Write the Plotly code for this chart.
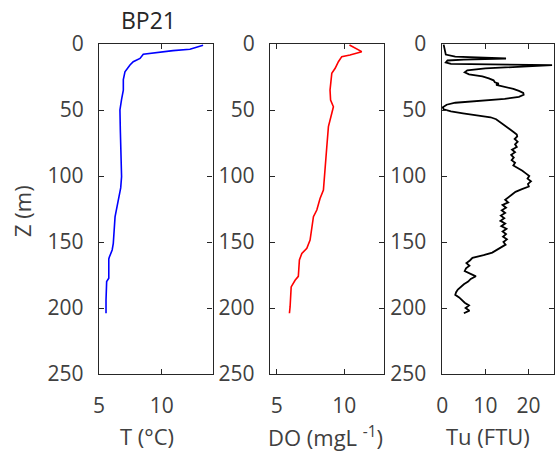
import plotly.graph_objects as go

# ---- data ----
T_depth = [1, 4, 5, 6.5, 7.8, 10.9, 13.4, 15.9, 21, 27, 35, 42, 50, 65, 80, 88, 100.5,
           109, 118, 131, 151, 156, 161.6, 163, 177.5, 180, 194, 204]
T_vals = [13.3, 12.25, 10.9, 9.6, 8.53, 8.27, 7.73, 7.47, 7.07, 6.94, 6.94, 6.8, 6.67,
          6.7, 6.75, 6.75, 6.8, 6.73, 6.54, 6.28, 6.14, 6.05, 5.82, 5.78, 5.78, 5.61, 5.56, 5.56]

DO_depth = [0.8, 3.3, 5.8, 8.3, 9.6, 13.4, 18.4, 22.2, 34.8, 42.4, 47.5, 52.5, 62.6, 77.8,
            88, 95.5, 110.6, 117, 125.8, 130.8, 148.5, 154.8, 158.6, 163.6, 176, 179, 184,
            199, 204]
DO_vals = [10.39, 10.8, 11.3, 10.43, 9.82, 9.57, 9.33, 9.08, 8.95, 8.99, 9.2, 9.08, 8.83,
           8.71, 8.64, 8.59, 8.46, 8.21, 7.97, 7.72, 7.47, 7.23, 6.86, 6.68, 6.6, 6.36, 6.07,
           5.99, 5.94]

Tu_depth = [0.5, 4, 8, 9.5, 11, 11.8, 12.5, 14, 15, 16, 17, 18.5, 20, 21.5, 23, 24.5, 26,
            27.5, 29, 30, 31, 32.5, 34, 35.5, 37, 38.5, 40, 41.5, 42.5, 43.5, 44.5, 46, 48,
            49.5, 51, 52.5, 54, 55.5, 57, 59, 61, 63, 65, 67, 68.5,
            70, 72, 74, 76, 78, 80, 82, 84, 86, 88, 90, 92, 94, 96, 98, 100, 102, 104, 106,
            108, 110, 112, 114, 116, 118, 120, 122, 124, 126, 128, 130, 132, 134, 136, 138,
            140, 142, 144, 146, 148, 150, 152, 154, 156, 158, 160, 162, 164, 166, 168, 170,
            172, 174, 176, 178, 180, 182, 184, 186, 188, 190, 192, 194, 196, 198, 200, 202,
            204]
Tu_vals = [0.3, 0.5, 0.8, 3.0, 14.8, 5.0, 1.2, 0.8, 2.0, 25.5, 18.0, 10.0, 5.8, 5.2, 6.2,
           9.3, 10.8, 11.9, 12.2, 13.1, 12.5, 14.6, 16.5, 17.8, 18.8, 18.9, 17.8, 14.5, 11.0,
           7.0, 3.0, 1.0, 0.1, 0.3, 2.0, 4.8, 8.5, 11.2, 12.5, 13.4, 14.2, 15.0, 15.8, 16.7,
           17.3,
           17.4, 16.8, 17.5, 16.9, 17.3, 16.2, 16.9, 16.0, 16.6, 16.1, 16.9, 16.5, 17.6, 18.6,
           19.4, 20.2, 19.8, 20.6, 19.9, 20.1, 18.5, 17.0, 16.2, 15.4, 14.6, 15.3, 14.0, 14.8,
           13.8, 14.6, 13.6, 14.4, 13.5, 14.6, 13.7, 14.9, 14.0, 14.8, 14.1, 15.0, 14.2, 14.7,
           13.6, 12.6, 11.6, 9.6, 7.0, 6.4, 5.6, 6.3, 5.5, 5.2, 6.4, 7.8, 6.6, 6.0, 5.0, 4.2,
           3.6, 3.2, 3.0, 3.9, 4.6, 5.2, 6.2, 5.4, 6.3, 5.0]

y_ticks = [0, 50, 100, 150, 200, 250]
x1_ticks = [5, 10]
x2_ticks = [5, 10]
x3_ticks = [0, 10, 20]

W, H = 556, 466
FONT = "Open Sans"
TXT = "#404040"
AX = "#262626"

def px(x):
    return x / W

def py(y):
    return 1 - y / H

fig = go.Figure()
fig.add_trace(go.Scatter(x=T_vals, y=T_depth, mode="lines", line=dict(color="#0000ff", width=1.6),
                         xaxis="x", yaxis="y", showlegend=False))
fig.add_trace(go.Scatter(x=DO_vals, y=DO_depth, mode="lines", line=dict(color="#ff0000", width=1.6),
                         xaxis="x2", yaxis="y2", showlegend=False))
fig.add_trace(go.Scatter(x=Tu_vals, y=Tu_depth, mode="lines", line=dict(color="#000000", width=1.8),
                         xaxis="x3", yaxis="y3", showlegend=False))

ydom = [py(374), py(44)]

def xax(dom, rng, ticks, anchor):
    return dict(domain=dom, range=rng, tickvals=ticks, ticktext=[str(t) for t in ticks],
                ticks="inside", ticklen=5, tickcolor=AX, showline=True, linecolor=AX,
                linewidth=1.3, mirror="ticks", showgrid=False, zeroline=False,
                anchor=anchor, ticklabelstandoff=13, automargin=False,
                tickfont=dict(family=FONT, size=21, color=TXT))

def yax(rng, anchor):
    return dict(domain=ydom, range=rng, tickvals=y_ticks, ticktext=[str(t) for t in y_ticks],
                ticks="inside", ticklen=5, tickcolor=AX, showline=True, linecolor=AX,
                linewidth=1.3, mirror="ticks", showgrid=False, zeroline=False,
                anchor=anchor, ticklabelstandoff=10, automargin=False,
                tickfont=dict(family=FONT, size=21, color=TXT))

fig.update_layout(
    width=W, height=H,
    margin=dict(l=0, r=0, t=0, b=0),
    paper_bgcolor="white", plot_bgcolor="white",
    xaxis=xax([px(99), px(212.5)], [5, 14.05], x1_ticks, "y"),
    xaxis2=xax([px(270), px(384)], [4.5, 12.95], x2_ticks, "y2"),
    xaxis3=xax([px(441.7), px(554)], [-0.15, 25.95], x3_ticks, "y3"),
    yaxis=yax([250, 0], "x"),
    yaxis2=yax([250, 0], "x2"),
    yaxis3=yax([250, 0], "x3"),
)

annots = [
    dict(text="BP21", x=px(148.5), y=py(20), size=23, color=AX, angle=0),
    dict(text="T (°C)", x=px(147), y=py(436), size=22, color=TXT, angle=0),
    dict(text="DO (mgL <sup>-1</sup>)", x=px(325.5), y=py(436), size=22, color=TXT, angle=0),
    dict(text="Tu (FTU)", x=px(488), y=py(436), size=22, color=TXT, angle=0),
    dict(text="Z (m)", x=px(22), y=py(211), size=22, color=TXT, angle=-90),
]
for a in annots:
    fig.add_annotation(text=a["text"], x=a["x"], y=a["y"], xref="paper", yref="paper",
                       xanchor="center", yanchor="middle", showarrow=False, textangle=a["angle"],
                       font=dict(family=FONT, size=a["size"], color=a["color"]))

fig.write_html("out.html")
